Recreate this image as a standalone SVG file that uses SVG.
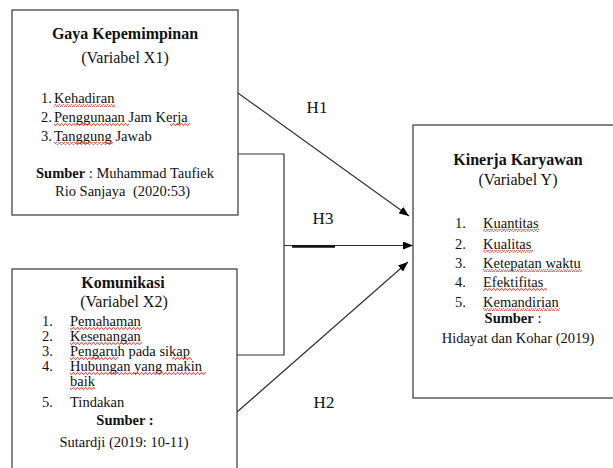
<svg xmlns="http://www.w3.org/2000/svg" width="613" height="468" viewBox="0 0 613 468">
<defs>
<marker id="ah" viewBox="0 0 10 8" refX="10" refY="4" markerWidth="10" markerHeight="8" markerUnits="userSpaceOnUse" orient="auto">
<path d="M0,0 L10,4 L0,8 Z" fill="#000"/>
</marker>
<pattern id="wave" width="4" height="3" patternUnits="userSpaceOnUse">
<polyline points="0,2.5 1,0.5 2,0.5 3,2.5 4,2.5" fill="none" stroke="#e0302a" stroke-width="0.8"/>
</pattern>
<style>
.box{fill:#fff;stroke:#444;stroke-width:1.3}
text{font-family:"Liberation Serif","Times New Roman",serif;fill:#111;font-size:14.5px}
.t{font-size:16px;font-weight:bold;text-anchor:middle}
.s{font-size:16px;text-anchor:middle}
.c{text-anchor:middle}
.b{font-weight:bold}
.h{font-size:17px;text-anchor:middle}
.ln{fill:none;stroke:#333;stroke-width:1.2}
.sq{fill:url(#wave)}
</style>
</defs>

<g id="connectors">
<polyline class="ln" points="238,154 284,154 284,355 237,355"/>
<line class="ln" x1="284" y1="245.5" x2="413" y2="245.5" stroke="#000" marker-end="url(#ah)"/>
<line x1="292" y1="246.5" x2="335" y2="246.5" stroke="#111" stroke-width="2.5"/>
<line class="ln" x1="238" y1="93" x2="409" y2="216" marker-end="url(#ah)"/>
<line class="ln" x1="237" y1="412" x2="408" y2="262" marker-end="url(#ah)"/>
<text class="h" x="317" y="113">H1</text>
<text class="h" x="323" y="224">H3</text>
<text class="h" x="324" y="408">H2</text>
</g>

<g id="x1">
<rect class="box" x="12" y="10" width="226" height="205"/>
<text class="t" x="125" y="39">Gaya Kepemimpinan</text>
<text class="s" x="125" y="63">(Variabel X1)</text>
<text x="41" y="103">1.<tspan x="54">Kehadiran</tspan></text>
<text x="41" y="122">2.<tspan x="54">Penggunaan Jam Kerja</tspan></text>
<text x="41" y="141">3.<tspan x="54">Tanggung Jawab</tspan></text>
<text class="c" x="125" y="178"><tspan class="b">Sumber</tspan> : Muhammad Taufiek</text>
<text x="55" y="196">Rio Sanjaya<tspan x="133">(2020:53)</tspan></text>
<rect class="sq" x="54" y="104" width="61" height="3"/>
<rect class="sq" x="54" y="123" width="75" height="3"/>
<rect class="sq" x="170" y="123" width="20" height="3"/>
<rect class="sq" x="54" y="142" width="59" height="3"/>
</g>

<g id="x2">
<rect class="box" x="12" y="269" width="225" height="210"/>
<text class="t" x="123" y="288">Komunikasi</text>
<text class="s" x="124" y="307">(Variabel X2)</text>
<text x="42" y="326">1.</text><text x="70" y="326">Pemahaman</text>
<text x="42" y="341">2.</text><text x="70" y="341">Kesenangan</text>
<text x="42" y="356">3.</text><text x="70" y="356">Pengaruh pada sikap</text>
<text x="42" y="371">4.</text><text x="70" y="371">Hubungan yang makin</text>
<text x="70" y="386">baik</text>
<text x="42" y="407">5.</text><text x="70" y="407">Tindakan</text>
<text class="c b" x="125" y="425">Sumber :</text>
<text class="c" x="124" y="447">Sutardji (2019: 10-11)</text>
<rect class="sq" x="70" y="327" width="72" height="3"/>
<rect class="sq" x="70" y="342" width="72" height="3"/>
<rect class="sq" x="70" y="357" width="48" height="3"/>
<rect class="sq" x="172" y="357" width="20" height="3"/>
<rect class="sq" x="70" y="372" width="136" height="3"/>
<rect class="sq" x="70" y="387" width="25" height="3"/>
</g>

<g id="y">
<rect class="box" x="413" y="125" width="210" height="273"/>
<text class="t" x="518" y="165">Kinerja Karyawan</text>
<text class="s" x="518" y="185">(Variabel Y)</text>
<text x="455" y="228">1.</text><text x="483" y="228">Kuantitas</text>
<text x="455" y="249">2.</text><text x="483" y="249">Kualitas</text>
<text x="455" y="268">3.</text><text x="483" y="268">Ketepatan waktu</text>
<text x="455" y="287">4.</text><text x="483" y="287">Efektifitas</text>
<text x="455" y="307">5.</text><text x="483" y="307">Kemandirian</text>
<text class="c" x="513" y="323"><tspan class="b">Sumber</tspan> :</text>
<text class="c" x="518" y="343">Hidayat dan Kohar (2019)</text>
<rect class="sq" x="483" y="229" width="56" height="3"/>
<rect class="sq" x="483" y="250" width="50" height="3"/>
<rect class="sq" x="483" y="269" width="99" height="3"/>
<rect class="sq" x="483" y="288" width="64" height="3"/>
<rect class="sq" x="483" y="308" width="77" height="3"/>
</g>
</svg>
